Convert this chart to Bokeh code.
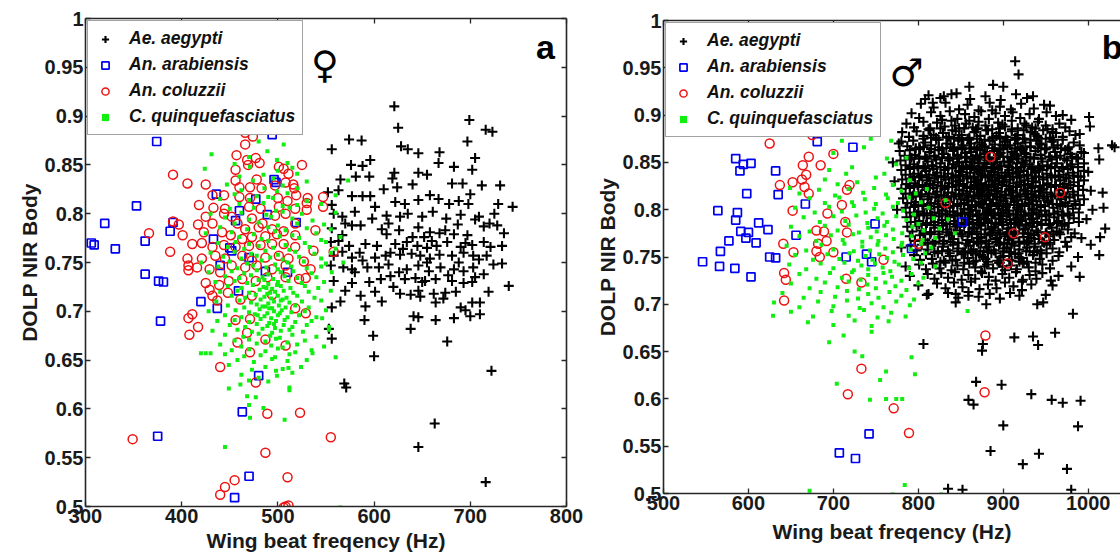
from bokeh.plotting import figure
from bokeh.layouts import row, column
from bokeh.models import LinearAxis, FixedTicker, Range1d
from bokeh.embed import file_html
from bokeh.resources import INLINE
from bokeh.core.properties import value

FONT = "Liberation Sans"

# ---------------- data ----------------
series_names = ["Ae. aegypti", "An. arabiensis", "An. coluzzii", "C. quinquefasciatus"]
x_ticks_a = [300, 400, 500, 600, 700, 800]
x_ticks_b = [500, 600, 700, 800, 900, 1000]
y_ticks = [0.5, 0.55, 0.6, 0.65, 0.7, 0.75, 0.8, 0.85, 0.9, 0.95, 1.0]
y_tick_labels = ["0.5", "0.55", "0.6", "0.65", "0.7", "0.75", "0.8", "0.85", "0.9", "0.95", "1"]
x_label = "Wing beat freqency (Hz)"
y_label = "DOLP NIR Body"

# Panel a (female)
ae_a = [(621,0.910),(625,0.888),(699,0.896),(716,0.886),(723,0.884),(574,0.876),(587,0.875),(697,0.874),(628,0.869),(635,0.866),(646,0.862),(556,0.866),(668,0.863),(705,0.857),(596,0.855),(667,0.852),(683,0.848),(702,0.845),(576,0.850),(588,0.849),(621,0.842),(646,0.842),(565,0.835),(581,0.838),(595,0.838),(619,0.836),(624,0.827),(681,0.831),(692,0.831),(712,0.829),(731,0.829),(552,0.822),(563,0.824),(577,0.818),(588,0.818),(596,0.818),(601,0.807),(658,0.819),(667,0.815),(646,0.814),(632,0.810),(622,0.812),(678,0.810),(688,0.813),(698,0.810),(729,0.810),(744,0.807),(725,0.800),(709,0.797),(556,0.809),(558,0.800),(567,0.797),(577,0.788),(586,0.788),(598,0.795),(613,0.798),(627,0.797),(635,0.800),(650,0.797),(661,0.802),(675,0.795),(690,0.799),(705,0.794),(714,0.787),(728,0.788),(556,0.785),(567,0.778),(608,0.784),(613,0.779),(626,0.783),(646,0.786),(658,0.781),(674,0.783),(683,0.779),(697,0.778),(555,0.771),(563,0.772),(574,0.767),(591,0.769),(603,0.767),(622,0.769),(634,0.771),(645,0.767),(655,0.765),(665,0.767),(676,0.771),(690,0.766),(702,0.768),(714,0.771),(721,0.766),(733,0.767),(558,0.757),(567,0.761),(577,0.755),(588,0.752),(601,0.755),(612,0.757),(627,0.758),(639,0.759),(648,0.757),(658,0.754),(668,0.758),(681,0.757),(693,0.760),(703,0.757),(709,0.753),(717,0.757),(555,0.747),(568,0.745),(577,0.743),(593,0.745),(615,0.748),(626,0.740),(634,0.743),(646,0.747),(657,0.741),(669,0.745),(683,0.743),(693,0.741),(703,0.745),(714,0.738),(733,0.749),(724,0.748),(607,0.733),(617,0.736),(632,0.733),(643,0.734),(653,0.731),(664,0.733),(681,0.731),(693,0.729),(702,0.730),(558,0.731),(570,0.721),(577,0.729),(586,0.716),(601,0.720),(608,0.710),(627,0.718),(638,0.717),(646,0.721),(662,0.718),(674,0.719),(672,0.713),(702,0.709),(710,0.709),(719,0.720),(740,0.726),(556,0.704),(565,0.710),(591,0.705),(648,0.715),(664,0.709),(690,0.704),(695,0.701),(641,0.695),(646,0.694),(664,0.691),(683,0.693),(700,0.695),(710,0.697),(590,0.691),(638,0.682),(553,0.682),(556,0.672),(599,0.675),(676,0.669),(600,0.654),(569,0.626),(571,0.622),(722,0.639),(663,0.585),(646,0.561),(716,0.525),(615,0.790),(652,0.776),(660,0.772),(640,0.776),(630,0.764),(668,0.780),(687,0.789),(695,0.770),(617,0.760),(605,0.745),(585,0.760),(570,0.790),(655,0.750),(677,0.737),(688,0.750),(650,0.730),(620,0.725),(685,0.720),(595,0.730),(705,0.735),(580,0.802),(610,0.825),(640,0.830),(655,0.840),(700,0.820),(720,0.790),(735,0.780),(580,0.740)]

ar_a = [(374,0.874),(494,0.881),(353,0.808),(320,0.790),(306,0.770),(309,0.768),(331,0.764),(362,0.772),(388,0.782),(391,0.791),(436,0.820),(477,0.815),(489,0.799),(519,0.791),(460,0.803),(433,0.774),(450,0.765),(452,0.762),(440,0.747),(487,0.741),(362,0.738),(376,0.731),(381,0.730),(459,0.721),(420,0.710),(437,0.703),(378,0.690),(480,0.634),(463,0.597),(375,0.572),(470,0.531),(455,0.509),(496,0.835),(498,0.832),(470,0.755),(510,0.740),(456,0.793)]

co_a = [(471,0.899),(466,0.883),(474,0.879),(466,0.871),(457,0.860),(468,0.855),(477,0.857),(469,0.850),(481,0.852),(525,0.850),(501,0.848),(506,0.846),(511,0.841),(391,0.840),(406,0.831),(425,0.830),(456,0.845),(456,0.834),(478,0.835),(460,0.827),(471,0.827),(483,0.826),(497,0.829),(508,0.832),(516,0.830),(517,0.826),(444,0.819),(432,0.819),(460,0.817),(471,0.816),(500,0.816),(510,0.813),(519,0.819),(531,0.816),(547,0.817),(547,0.807),(530,0.811),(530,0.804),(518,0.805),(418,0.809),(433,0.806),(445,0.805),(470,0.807),(482,0.805),(501,0.807),(425,0.797),(444,0.800),(452,0.797),(473,0.795),(484,0.790),(497,0.798),(508,0.800),(518,0.790),(391,0.792),(397,0.789),(417,0.789),(432,0.790),(442,0.781),(458,0.790),(466,0.784),(480,0.786),(494,0.784),(506,0.782),(539,0.783),(366,0.780),(401,0.778),(423,0.781),(451,0.778),(463,0.774),(473,0.776),(487,0.777),(499,0.779),(518,0.778),(411,0.769),(421,0.770),(432,0.766),(444,0.768),(456,0.766),(470,0.767),(482,0.768),(494,0.769),(506,0.769),(518,0.766),(388,0.761),(537,0.762),(558,0.761),(406,0.754),(421,0.754),(435,0.757),(445,0.754),(463,0.757),(473,0.752),(487,0.755),(501,0.757),(511,0.754),(527,0.751),(407,0.747),(407,0.742),(416,0.745),(429,0.743),(440,0.740),(452,0.747),(466,0.745),(478,0.747),(494,0.743),(508,0.747),(534,0.743),(425,0.729),(429,0.722),(439,0.727),(449,0.731),(463,0.733),(477,0.731),(489,0.735),(508,0.735),(522,0.733),(529,0.734),(432,0.716),(437,0.711),(448,0.719),(461,0.712),(473,0.716),(494,0.717),(411,0.697),(407,0.693),(417,0.684),(408,0.676),(518,0.703),(529,0.698),(456,0.691),(471,0.692),(487,0.671),(468,0.678),(458,0.668),(508,0.665),(471,0.658),(440,0.643),(477,0.627),(489,0.595),(523,0.596),(349,0.569),(555,0.571),(487,0.555),(510,0.530),(455,0.527),(445,0.520),(440,0.512),(508,0.500),(511,0.501),(506,0.499)]

cq_a = [(487,0.899),(506,0.871),(480,0.874),(431,0.861),(489,0.864),(470,0.858),(499,0.855),(455,0.851),(471,0.848),(510,0.852),(424,0.846),(500,0.844),(515,0.847),(485,0.840),(460,0.838),(520,0.841),(495,0.836),(530,0.833),(474,0.834),(447,0.830),(505,0.829),(486,0.826),(573,0.834),(462,0.824),(499,0.823),(520,0.826),(455,0.820),(478,0.818),(510,0.821),(560,0.819),(490,0.817),(470,0.814),(495,0.816),(530,0.813),(440,0.815),(460,0.810),(485,0.811),(505,0.808),(520,0.809),(545,0.810),(450,0.805),(475,0.806),(498,0.803),(512,0.806),(430,0.800),(462,0.801),(488,0.799),(505,0.802),(525,0.800),(560,0.801),(445,0.796),(470,0.794),(493,0.797),(515,0.795),(536,0.793),(455,0.790),(480,0.791),(500,0.788),(520,0.790),(548,0.789),(440,0.786),(468,0.784),(490,0.786),(508,0.783),(530,0.785),(555,0.784),(425,0.780),(452,0.781),(475,0.779),(497,0.782),(515,0.778),(540,0.780),(460,0.776),(483,0.774),(502,0.777),(522,0.775),(545,0.773),(565,0.776),(438,0.770),(456,0.771),(470,0.769),(490,0.772),(508,0.768),(528,0.770),(550,0.771),(448,0.766),(465,0.764),(480,0.767),(495,0.765),(512,0.763),(533,0.766),(560,0.764),(430,0.760),(455,0.761),(472,0.759),(487,0.762),(500,0.758),(518,0.761),(538,0.759),(555,0.760),(443,0.756),(462,0.754),(478,0.757),(492,0.755),(505,0.753),(522,0.756),(545,0.754),(420,0.750),(450,0.751),(468,0.749),(483,0.752),(497,0.748),(510,0.750),(527,0.751),(550,0.749),(568,0.750),(438,0.746),(458,0.744),(474,0.747),(488,0.745),(500,0.743),(514,0.746),(530,0.744),(545,0.746),(428,0.740),(452,0.741),(465,0.739),(478,0.742),(490,0.738),(503,0.740),(516,0.741),(535,0.739),(556,0.740),(445,0.736),(460,0.734),(472,0.737),(484,0.735),(495,0.733),(507,0.736),(520,0.734),(540,0.735),(435,0.730),(455,0.731),(468,0.729),(480,0.732),(490,0.728),(500,0.730),(511,0.731),(525,0.729),(548,0.730),(448,0.726),(462,0.724),(474,0.727),(485,0.725),(494,0.723),(503,0.726),(513,0.724),(528,0.726),(542,0.724),(440,0.720),(458,0.721),(470,0.719),(481,0.722),(489,0.718),(497,0.720),(506,0.721),(516,0.719),(532,0.720),(555,0.721),(452,0.716),(466,0.714),(477,0.717),(486,0.715),(493,0.713),(500,0.716),(509,0.714),(520,0.716),(538,0.714),(436,0.710),(460,0.711),(472,0.709),(482,0.712),(490,0.708),(496,0.710),(503,0.711),(512,0.709),(525,0.710),(545,0.711),(448,0.706),(465,0.704),(478,0.707),(487,0.705),(494,0.703),(501,0.706),(508,0.704),(518,0.706),(532,0.704),(428,0.700),(456,0.701),(470,0.699),(481,0.702),(489,0.698),(496,0.700),(504,0.701),(514,0.699),(528,0.700),(550,0.701),(445,0.696),(462,0.694),(476,0.697),(486,0.695),(493,0.693),(500,0.696),(510,0.694),(522,0.696),(540,0.694),(437,0.690),(455,0.691),(470,0.689),(482,0.692),(491,0.688),(498,0.690),(507,0.691),(518,0.689),(535,0.690),(450,0.686),(466,0.684),(478,0.687),(489,0.685),(497,0.683),(506,0.686),(515,0.684),(530,0.686),(553,0.684),(432,0.680),(458,0.681),(473,0.679),(484,0.682),(494,0.678),(503,0.680),(512,0.681),(526,0.679),(445,0.676),(464,0.674),(480,0.677),(492,0.675),(502,0.673),(515,0.676),(540,0.674),(455,0.670),(470,0.671),(487,0.669),(498,0.672),(510,0.668),(528,0.670),(440,0.666),(462,0.664),(478,0.667),(493,0.665),(505,0.663),(520,0.666),(548,0.664),(420,0.657),(425,0.657),(430,0.657),(452,0.660),(470,0.661),(487,0.659),(500,0.662),(518,0.658),(535,0.660),(445,0.656),(465,0.654),(482,0.655),(497,0.653),(512,0.656),(560,0.653),(458,0.650),(475,0.648),(494,0.651),(510,0.649),(530,0.650),(449,0.645),(487,0.643),(505,0.641),(524,0.643),(473,0.640),(498,0.639),(515,0.637),(462,0.635),(499,0.634),(480,0.632),(470,0.629),(490,0.628),(461,0.625),(512,0.622),(449,0.621),(512,0.619),(468,0.613),(477,0.612),(485,0.601),(470,0.604),(471,0.591),(507,0.589),(445,0.561),(565,0.499),(546,0.693),(553,0.681),(536,0.657),(511,0.642),(484,0.705),(492,0.719),(499,0.727),(486,0.732),(505,0.712),(479,0.696),(496,0.687),(488,0.724),(502,0.698),(491,0.703)]

# Panel b (male)
ae_b = [(914,0.957),(918,0.943),(888,0.932),(839,0.922),(808,0.917),(817,0.913),(1002,0.888),(1013,0.853),(1018,0.802),(1013,0.752),(1001,0.898),(1012,0.865),(1028,0.868),(1031,0.866),(1017,0.818),(1014,0.771),(1003,0.763),(990,0.729),(982,0.690),(961,0.670),(935,0.666),(941,0.657),(913,0.665),(876,0.658),(875,0.651),(806,0.658),(868,0.618),(859,0.599),(865,0.594),(898,0.615),(933,0.605),(957,0.599),(970,0.596),(991,0.598),(900,0.572),(988,0.571),(885,0.545),(942,0.542),(923,0.531),(975,0.526),(835,0.505),(852,0.504),(980,0.504),(880,0.700),(844,0.702),(844,0.711),(859,0.709),(947,0.702),(956,0.725),(922,0.724),(812,0.711),
(770,0.850),(772,0.830),(775,0.800),(777,0.870),(1000,0.840),(1003,0.820),(998,0.790),(995,0.860),(992,0.770),(988,0.750),(980,0.740),(965,0.730),(958,0.720),(1005,0.800),(1020,0.780),(780,0.760),(785,0.740),(790,0.730),(800,0.720),(810,0.710),(950,0.710),(940,0.700),(830,0.920),(860,0.930),(900,0.930),(935,0.920),(955,0.910),(970,0.900),(980,0.895),(990,0.880),
(812,0.921),(826,0.918),(845,0.923),(861,0.917),(879,0.920),(897,0.916),(915,0.922),(928,0.918),
(803,0.912),(818,0.908),(832,0.913),(848,0.906),(858,0.911),(871,0.905),(884,0.913),(896,0.909),(909,0.906),(921,0.912),(936,0.907),(948,0.911),
(792,0.902),(801,0.897),(815,0.903),(826,0.899),(837,0.904),(846,0.896),(855,0.901),(866,0.898),(874,0.904),(883,0.896),(891,0.902),(902,0.899),(911,0.903),(920,0.897),(931,0.901),(942,0.896),(951,0.903),(962,0.899),(828,0.895),(887,0.905),
(786,0.891),(795,0.887),(806,0.893),(814,0.886),(822,0.892),(831,0.888),(839,0.894),(848,0.886),(856,0.891),(864,0.887),(871,0.893),(879,0.889),(887,0.885),(894,0.892),(902,0.888),(910,0.894),(917,0.886),(925,0.891),(934,0.887),(941,0.893),(950,0.889),(958,0.885),(966,0.891),(973,0.887),(843,0.889),(899,0.890),(927,0.889),(860,0.894),
(812,0.885),(826,0.886),(840,0.884),(854,0.886),(868,0.885),(882,0.884),(896,0.886),(910,0.885),(924,0.884),(938,0.886),(952,0.885),
(781,0.882),(789,0.877),(798,0.883),(806,0.878),(813,0.884),(821,0.876),(829,0.881),(836,0.877),(844,0.883),(851,0.879),(858,0.875),(866,0.882),(873,0.878),(880,0.884),(888,0.876),(895,0.881),(903,0.877),(910,0.883),(917,0.879),(925,0.875),(932,0.882),(940,0.878),(947,0.884),(955,0.876),(962,0.881),(970,0.877),(978,0.883),(985,0.879),(818,0.879),(848,0.876),(870,0.886),(892,0.878),(915,0.876),(937,0.880),(958,0.882),
(806,0.875),(815,0.876),(824,0.874),(833,0.876),(842,0.875),(851,0.874),(860,0.876),(869,0.875),(878,0.874),(887,0.876),(896,0.875),(905,0.874),(914,0.876),(923,0.875),(932,0.874),(941,0.876),(950,0.875),(959,0.874),
(780,0.872),(787,0.867),(794,0.873),(801,0.866),(808,0.871),(815,0.868),(821,0.874),(828,0.865),(834,0.870),(841,0.866),(847,0.873),(853,0.868),(860,0.874),(866,0.866),(872,0.871),(878,0.867),(884,0.873),(890,0.869),(896,0.865),(902,0.872),(908,0.868),(914,0.874),(920,0.866),(926,0.871),(932,0.867),(939,0.873),(945,0.869),(951,0.865),(957,0.872),(964,0.868),(970,0.874),(977,0.866),(983,0.871),(990,0.868),(838,0.869),(875,0.869),(899,0.868),(917,0.870),(943,0.870),(862,0.870),
(797,0.865),(806,0.866),(815,0.864),(824,0.866),(833,0.865),(842,0.864),(851,0.866),(860,0.865),(869,0.864),(878,0.866),(887,0.865),(896,0.864),(905,0.866),(914,0.865),(923,0.864),(932,0.866),(941,0.865),(950,0.864),(959,0.866),(968,0.865),(976,0.864),
(778,0.862),(784,0.857),(790,0.863),(796,0.858),(802,0.864),(808,0.856),(813,0.861),(819,0.857),(824,0.863),(830,0.859),(835,0.855),(841,0.862),(846,0.858),(852,0.864),(857,0.856),(862,0.861),(868,0.857),(873,0.863),(878,0.859),(884,0.855),(889,0.862),(894,0.858),(900,0.864),(905,0.856),(910,0.861),(916,0.857),(921,0.863),(927,0.859),(932,0.855),(938,0.862),(944,0.858),(949,0.864),(955,0.856),(961,0.861),(967,0.857),(973,0.863),(979,0.859),(986,0.855),(992,0.861),(855,0.860),(881,0.861),(897,0.860),(913,0.859),(870,0.854),(925,0.860),
(792,0.855),(801,0.856),(810,0.854),(819,0.856),(828,0.855),(837,0.854),(846,0.856),(855,0.855),(864,0.854),(873,0.856),(882,0.855),(891,0.854),(900,0.856),(909,0.855),(918,0.854),(927,0.856),(936,0.855),(945,0.854),(954,0.856),(963,0.855),(972,0.854),(981,0.856),
(779,0.852),(785,0.847),(790,0.853),(795,0.848),(801,0.854),(806,0.846),(811,0.851),(816,0.847),(821,0.853),(826,0.849),(831,0.845),(836,0.852),(841,0.848),(846,0.854),(851,0.846),(856,0.851),(861,0.847),(866,0.853),(871,0.849),(876,0.845),(881,0.852),(886,0.848),(891,0.854),(896,0.846),(901,0.851),(906,0.847),(911,0.853),(916,0.849),(921,0.845),(926,0.852),(931,0.848),(936,0.854),(941,0.846),(946,0.851),(952,0.847),(957,0.853),(963,0.849),(969,0.845),(975,0.852),(981,0.848),(988,0.854),(995,0.849),(848,0.850),(863,0.850),(878,0.849),(893,0.850),(908,0.850),(923,0.850),(873,0.856),(888,0.844),
(790,0.845),(799,0.846),(808,0.844),(817,0.846),(826,0.845),(835,0.844),(844,0.846),(853,0.845),(862,0.844),(871,0.846),(880,0.845),(889,0.844),(898,0.846),(907,0.845),(916,0.844),(925,0.846),(934,0.845),(943,0.844),(952,0.846),(961,0.845),(970,0.844),(979,0.846),(988,0.845),
(780,0.842),(785,0.837),(790,0.843),(795,0.838),(800,0.844),(804,0.836),(809,0.841),(813,0.837),(818,0.843),(822,0.839),(827,0.835),(831,0.842),(835,0.838),(840,0.844),(844,0.836),(848,0.841),(852,0.837),(857,0.843),(861,0.839),(865,0.835),(869,0.842),(873,0.838),(878,0.844),(882,0.836),(886,0.841),(890,0.837),(894,0.843),(898,0.839),(903,0.835),(907,0.842),(911,0.838),(915,0.844),(920,0.836),(924,0.841),(928,0.837),(933,0.843),(937,0.839),(942,0.835),(946,0.842),(951,0.838),(956,0.844),(961,0.836),(966,0.841),(971,0.837),(976,0.843),(982,0.839),(988,0.835),(995,0.841),(850,0.840),(871,0.840),(889,0.840),(905,0.839),(918,0.840),(938,0.841),(862,0.845),
(794,0.835),(803,0.836),(812,0.834),(821,0.836),(830,0.835),(839,0.834),(848,0.836),(857,0.835),(866,0.834),(875,0.836),(884,0.835),(893,0.834),(902,0.836),(911,0.835),(920,0.834),(929,0.836),(938,0.835),(947,0.834),(956,0.836),(965,0.835),(974,0.834),(983,0.836),(991,0.835),
(781,0.832),(786,0.827),(791,0.833),(796,0.828),(801,0.834),(805,0.826),(810,0.831),(814,0.827),(819,0.833),(823,0.829),(828,0.825),(832,0.832),(836,0.828),(841,0.834),(845,0.826),(849,0.831),(853,0.827),(858,0.833),(862,0.829),(866,0.825),(870,0.832),(874,0.828),(879,0.834),(883,0.826),(887,0.831),(891,0.827),(895,0.833),(899,0.829),(904,0.825),(908,0.832),(912,0.828),(916,0.834),(921,0.826),(925,0.831),(929,0.827),(934,0.833),(938,0.829),(943,0.825),(947,0.832),(952,0.828),(957,0.834),(962,0.826),(967,0.831),(972,0.827),(977,0.833),(983,0.829),(989,0.825),(995,0.831),(847,0.830),(868,0.830),(886,0.830),(901,0.830),(919,0.829),(935,0.830),(877,0.823),
(790,0.825),(799,0.826),(808,0.824),(817,0.826),(826,0.825),(835,0.824),(844,0.826),(853,0.825),(862,0.824),(871,0.826),(880,0.825),(889,0.824),(898,0.826),(907,0.825),(916,0.824),(925,0.826),(934,0.825),(943,0.824),(952,0.826),(961,0.825),(970,0.824),(979,0.826),(988,0.825),
(780,0.822),(785,0.817),(790,0.823),(795,0.818),(800,0.824),(804,0.816),(809,0.821),(813,0.817),(818,0.823),(822,0.819),(827,0.815),(831,0.822),(835,0.818),(840,0.824),(844,0.816),(848,0.821),(852,0.817),(857,0.823),(861,0.819),(865,0.815),(869,0.822),(873,0.818),(878,0.824),(882,0.816),(886,0.821),(890,0.817),(894,0.823),(898,0.819),(903,0.815),(907,0.822),(911,0.818),(915,0.824),(920,0.816),(924,0.821),(928,0.817),(933,0.823),(937,0.819),(942,0.815),(946,0.822),(951,0.818),(956,0.824),(961,0.816),(966,0.821),(971,0.817),(976,0.823),(982,0.819),(988,0.815),(994,0.821),(853,0.820),(875,0.820),(892,0.820),(909,0.820),(926,0.820),(944,0.820),(866,0.826),
(794,0.815),(803,0.816),(812,0.814),(821,0.816),(830,0.815),(839,0.814),(848,0.816),(857,0.815),(866,0.814),(875,0.816),(884,0.815),(893,0.814),(902,0.816),(911,0.815),(920,0.814),(929,0.816),(938,0.815),(947,0.814),(956,0.816),(965,0.815),(974,0.814),(983,0.816),
(782,0.812),(787,0.807),(792,0.813),(797,0.808),(802,0.814),(806,0.806),(811,0.811),(815,0.807),(820,0.813),(824,0.809),(829,0.805),(833,0.812),(837,0.808),(842,0.814),(846,0.806),(850,0.811),(854,0.807),(859,0.813),(863,0.809),(867,0.805),(871,0.812),(875,0.808),(880,0.814),(884,0.806),(888,0.811),(892,0.807),(896,0.813),(900,0.809),(905,0.805),(909,0.812),(913,0.808),(917,0.814),(922,0.806),(926,0.811),(930,0.807),(935,0.813),(939,0.809),(944,0.805),(948,0.812),(953,0.808),(958,0.814),(963,0.806),(968,0.811),(973,0.807),(978,0.813),(984,0.809),(990,0.805),(995,0.811),(857,0.810),(878,0.810),(897,0.810),(916,0.810),(933,0.810),(952,0.810),(871,0.816),
(796,0.805),(805,0.806),(814,0.804),(823,0.806),(832,0.805),(841,0.804),(850,0.806),(859,0.805),(868,0.804),(877,0.806),(886,0.805),(895,0.804),(904,0.806),(913,0.805),(922,0.804),(931,0.806),(940,0.805),(949,0.804),(958,0.806),(967,0.805),(976,0.804),(985,0.806),
(785,0.802),(790,0.797),(795,0.803),(800,0.798),(805,0.804),(810,0.796),(814,0.801),(819,0.797),(823,0.803),(828,0.799),(832,0.795),(837,0.802),(841,0.798),(846,0.804),(850,0.796),(854,0.801),(859,0.797),(863,0.803),(868,0.799),(872,0.795),(876,0.802),(881,0.798),(885,0.804),(890,0.796),(894,0.801),(898,0.797),(903,0.803),(907,0.799),(912,0.795),(916,0.802),(921,0.798),(925,0.804),(930,0.796),(934,0.801),(939,0.797),(944,0.803),(949,0.799),(954,0.795),(959,0.802),(964,0.798),(970,0.804),(976,0.796),(982,0.801),(989,0.797),(861,0.800),(883,0.800),(900,0.800),(918,0.800),(936,0.800),(875,0.806),
(798,0.795),(807,0.796),(816,0.794),(825,0.796),(834,0.795),(843,0.794),(852,0.796),(861,0.795),(870,0.794),(879,0.796),(888,0.795),(897,0.794),(906,0.796),(915,0.795),(924,0.794),(933,0.796),(942,0.795),(951,0.794),(960,0.796),(969,0.795),(978,0.794),
(786,0.792),(791,0.787),(796,0.793),(801,0.788),(806,0.794),(810,0.786),(815,0.791),(819,0.787),(824,0.793),(828,0.789),(833,0.785),(837,0.792),(842,0.788),(846,0.794),(851,0.786),(855,0.791),(860,0.787),(864,0.793),(869,0.789),(873,0.785),(877,0.792),(882,0.788),(886,0.794),(891,0.786),(895,0.791),(899,0.787),(904,0.793),(908,0.789),(913,0.785),(917,0.792),(922,0.788),(926,0.794),(931,0.786),(935,0.791),(940,0.787),(945,0.793),(950,0.789),(955,0.785),(960,0.792),(965,0.788),(971,0.794),(977,0.786),(983,0.791),(989,0.787),(858,0.790),(879,0.790),(897,0.790),(915,0.790),(933,0.790),(889,0.796),
(801,0.785),(810,0.786),(819,0.784),(828,0.786),(837,0.785),(846,0.784),(855,0.786),(864,0.785),(873,0.784),(882,0.786),(891,0.785),(900,0.784),(909,0.786),(918,0.785),(927,0.784),(936,0.786),(945,0.785),(954,0.784),(963,0.786),(972,0.785),
(787,0.782),(793,0.777),(798,0.783),(804,0.778),(809,0.784),(814,0.776),(819,0.781),(824,0.777),(829,0.783),(834,0.779),(839,0.775),(844,0.782),(849,0.778),(854,0.784),(859,0.776),(864,0.781),(869,0.777),(874,0.783),(879,0.779),(884,0.775),(889,0.782),(894,0.778),(899,0.784),(904,0.776),(909,0.781),(914,0.777),(919,0.783),(924,0.779),(929,0.775),(934,0.782),(939,0.778),(945,0.784),(951,0.776),(957,0.781),(963,0.777),(969,0.783),(976,0.779),(984,0.775),(866,0.780),(886,0.780),(906,0.780),(926,0.780),(871,0.786),(896,0.774),(917,0.786),
(806,0.775),(815,0.776),(824,0.774),(833,0.776),(842,0.775),(851,0.774),(860,0.776),(869,0.775),(878,0.774),(887,0.776),(896,0.775),(905,0.774),(914,0.776),(923,0.775),(932,0.774),(941,0.776),(950,0.775),(959,0.774),(966,0.776),
(790,0.772),(796,0.767),(802,0.773),(808,0.768),(814,0.774),(819,0.766),(825,0.771),(830,0.767),(836,0.773),(841,0.769),(847,0.765),(852,0.772),(858,0.768),(863,0.774),(869,0.766),(874,0.771),(880,0.767),(885,0.773),(891,0.769),(896,0.765),(902,0.772),(907,0.768),(913,0.774),(918,0.766),(924,0.771),(930,0.767),(936,0.773),(942,0.769),(948,0.765),(954,0.772),(960,0.768),(967,0.774),(973,0.766),(980,0.771),(871,0.770),(893,0.770),(911,0.770),(933,0.770),(860,0.776),(905,0.764),
(811,0.765),(820,0.766),(829,0.764),(838,0.766),(847,0.765),(856,0.764),(865,0.766),(874,0.765),(883,0.764),(892,0.766),(901,0.765),(910,0.764),(919,0.766),(928,0.765),(937,0.764),(946,0.766),(955,0.765),
(791,0.762),(798,0.757),(804,0.763),(811,0.758),(817,0.764),(823,0.756),(829,0.761),(835,0.757),(841,0.763),(847,0.759),(853,0.755),(859,0.762),(865,0.758),(871,0.764),(877,0.756),(883,0.761),(889,0.757),(895,0.763),(901,0.759),(907,0.755),(913,0.762),(919,0.758),(925,0.764),(931,0.756),(937,0.761),(944,0.757),(951,0.763),(958,0.759),(966,0.755),(975,0.761),(880,0.760),(904,0.760),(928,0.760),(868,0.754),(892,0.766),
(819,0.755),(828,0.756),(837,0.754),(846,0.756),(855,0.755),(864,0.754),(873,0.756),(882,0.755),(891,0.754),(900,0.756),(909,0.755),(918,0.754),(927,0.756),(936,0.755),(945,0.754),
(795,0.752),(802,0.747),(809,0.753),(816,0.748),(823,0.754),(830,0.746),(837,0.751),(844,0.747),(851,0.753),(858,0.749),(865,0.745),(872,0.752),(879,0.748),(886,0.754),(893,0.746),(900,0.751),(907,0.747),(914,0.753),(921,0.749),(928,0.745),(935,0.752),(943,0.748),(951,0.754),(958,0.746),(965,0.751),(876,0.750),(897,0.750),(918,0.750),(862,0.756),(940,0.756),
(826,0.745),(840,0.746),(854,0.744),(868,0.746),(882,0.745),(896,0.744),(910,0.746),(924,0.745),(938,0.744),
(801,0.742),(809,0.737),(817,0.743),(825,0.738),(832,0.744),(839,0.736),(846,0.741),(853,0.737),(860,0.743),(867,0.739),(874,0.735),(881,0.742),(888,0.738),(895,0.744),(902,0.736),(909,0.741),(916,0.737),(923,0.743),(930,0.739),(938,0.735),(946,0.742),(955,0.738),(878,0.740),(899,0.740),(919,0.745),
(811,0.732),(819,0.727),(827,0.733),(835,0.728),(843,0.734),(851,0.726),(859,0.731),(867,0.727),(875,0.733),(883,0.729),(891,0.725),(899,0.732),(907,0.728),(915,0.734),(923,0.726),(931,0.731),(939,0.727),(946,0.733),
(822,0.722),(832,0.717),(842,0.723),(852,0.718),(862,0.724),(872,0.716),(882,0.721),(892,0.717),(902,0.723),(912,0.719),(922,0.715),(933,0.721),
(835,0.712),(847,0.707),(859,0.713),(871,0.708),(884,0.711),(896,0.706),(908,0.712),(919,0.709)]

ar_b = [(585,0.854),(594,0.848),(590,0.841),(603,0.849),(632,0.841),(598,0.817),(635,0.816),(681,0.872),(723,0.866),(667,0.806),(564,0.799),(587,0.797),(585,0.789),(612,0.786),(591,0.777),(600,0.776),(597,0.770),(623,0.779),(609,0.765),(577,0.767),(567,0.756),(656,0.773),(546,0.745),(566,0.740),(584,0.738),(603,0.729),(625,0.750),(632,0.749),(715,0.750),(745,0.745),(739,0.753),(749,0.785),(792,0.759),(852,0.787),(742,0.563),(707,0.543),(726,0.537)]

co_b = [(697,0.901),(660,0.887),(675,0.879),(625,0.870),(700,0.859),(671,0.856),(685,0.847),(664,0.847),(668,0.837),(663,0.832),(637,0.826),(652,0.829),(666,0.824),(671,0.817),(719,0.826),(716,0.821),(652,0.799),(710,0.805),(693,0.796),(714,0.787),(716,0.776),(680,0.778),(689,0.777),(692,0.767),(682,0.764),(641,0.764),(653,0.755),(680,0.756),(684,0.750),(700,0.755),(759,0.747),(642,0.733),(644,0.726),(715,0.727),(733,0.723),(642,0.704),(800,0.764),(832,0.807),(885,0.856),(967,0.818),(912,0.775),(949,0.771),(905,0.743),(879,0.667),(878,0.607),(733,0.632),(717,0.605),(771,0.590),(789,0.564)]

cq_b = [(708,0.895),(731,0.888),(744,0.875),(768,0.873),(736,0.866),(710,0.873),(722,0.845),(763,0.854),(774,0.848),(786,0.855),(700,0.860),(715,0.838),(695,0.842),(649,0.823),(690,0.832),(705,0.827),(728,0.829),(750,0.834),(770,0.826),(790,0.831),(760,0.838),(660,0.817),(683,0.821),(702,0.815),(718,0.822),(735,0.818),(748,0.823),(762,0.816),(780,0.820),(797,0.817),(810,0.822),(672,0.812),(690,0.807),(707,0.813),(722,0.808),(737,0.811),(750,0.806),(764,0.812),(776,0.807),(789,0.813),(803,0.808),(655,0.802),(678,0.797),(695,0.803),(710,0.798),(724,0.804),(738,0.797),(748,0.801),(758,0.796),(770,0.803),(782,0.799),(795,0.795),(812,0.802),(665,0.792),(684,0.787),(700,0.793),(714,0.788),(727,0.794),(740,0.786),(752,0.791),(763,0.787),(774,0.793),(786,0.789),(800,0.785),(818,0.791),(650,0.782),(672,0.777),(690,0.783),(705,0.778),(718,0.784),(730,0.776),(741,0.781),(751,0.777),(760,0.783),(770,0.779),(781,0.775),(793,0.782),(806,0.778),(825,0.780),(660,0.772),(680,0.767),(697,0.773),(711,0.768),(723,0.774),(734,0.766),(744,0.771),(753,0.767),(762,0.773),(771,0.769),(781,0.765),(792,0.772),(805,0.768),(820,0.770),(645,0.762),(668,0.757),(686,0.763),(700,0.758),(713,0.764),(724,0.756),(734,0.761),(743,0.757),(752,0.763),(761,0.759),(770,0.755),(780,0.762),(791,0.758),(803,0.764),(815,0.760),(655,0.752),(676,0.747),(693,0.753),(707,0.748),(719,0.754),(729,0.746),(738,0.751),(746,0.747),(754,0.753),(763,0.749),(772,0.745),(782,0.752),(794,0.748),(808,0.754),(648,0.742),(668,0.737),(685,0.743),(700,0.738),(713,0.744),(724,0.736),(733,0.741),(741,0.737),(749,0.743),(758,0.739),(767,0.735),(777,0.742),(789,0.738),(803,0.744),(820,0.740),(660,0.732),(680,0.727),(696,0.733),(710,0.728),(722,0.734),(732,0.726),(741,0.731),(750,0.727),(759,0.733),(769,0.729),(780,0.725),(792,0.732),(806,0.728),(650,0.722),(672,0.717),(690,0.723),(705,0.718),(718,0.724),(730,0.716),(740,0.721),(750,0.717),(761,0.723),(773,0.719),(786,0.715),(800,0.722),(640,0.712),(665,0.707),(685,0.713),(702,0.708),(716,0.714),(729,0.706),(741,0.711),(753,0.707),(766,0.713),(780,0.709),(795,0.705),(630,0.702),(660,0.697),(682,0.703),(700,0.698),(716,0.704),(731,0.696),(745,0.701),(759,0.697),(774,0.703),(790,0.699),(629,0.688),(650,0.692),(676,0.687),(698,0.693),(718,0.688),(736,0.694),(752,0.686),(768,0.691),(785,0.687),(670,0.681),(700,0.678),(725,0.683),(745,0.677),(765,0.682),(712,0.667),(745,0.671),(695,0.660),(725,0.650),(734,0.645),(792,0.644),(762,0.629),(796,0.626),(704,0.616),(743,0.599),(762,0.600),(774,0.600),(781,0.600),(784,0.509),(672,0.503),(770,0.499),(827,0.499),(858,0.693),(755,0.620),(835,0.790),(843,0.775),(832,0.810)]

# ---------------- styling helpers ----------------
AX = "#262626"


def style_axis(ax, show_labels=True, label_standoff=1):
    ax.major_tick_in = 5
    ax.major_tick_out = 0
    ax.minor_tick_line_color = None
    ax.axis_line_color = AX
    ax.axis_line_width = 1.6
    ax.major_tick_line_color = AX
    ax.major_tick_line_width = 1.3
    if show_labels:
        ax.major_label_text_font = FONT
        ax.major_label_text_font_style = "bold"
        ax.major_label_text_font_size = "20px"
        ax.major_label_text_color = "#1a1a1a"
        ax.major_label_standoff = 2
        ax.axis_label_text_font = FONT
        ax.axis_label_text_font_style = "bold"
        ax.axis_label_text_font_size = "21px"
        ax.axis_label_text_color = "#1a1a1a"
        ax.axis_label_standoff = label_standoff
    else:
        ax.major_label_text_font_size = "1px"
        ax.major_label_standoff = 0


def xs(pts):
    return [p[0] for p in pts]


def ys(pts):
    return [p[1] for p in pts]


def make_panel(x_start, x_end, x_ticks, ae, ar, co, cq, width, left, right, top, bottom,
               sym, sym_pos, letter, letter_pos, letter_align, right_axis, xlab_standoff):
    p = figure(width=width, height=556,
               x_range=Range1d(x_start, x_end), y_range=Range1d(0.5, 1.0),
               output_backend="svg", toolbar_location=None,
               min_border_left=left, min_border_right=right,
               min_border_top=top, min_border_bottom=bottom)
    p.outline_line_color = None
    p.grid.visible = False
    p.background_fill_color = "white"
    p.border_fill_color = "white"

    p.xaxis.ticker = FixedTicker(ticks=x_ticks)
    p.yaxis.ticker = FixedTicker(ticks=y_ticks)
    p.yaxis.major_label_overrides = {t: l for t, l in zip(y_ticks, y_tick_labels)}
    p.xaxis.axis_label = x_label
    p.yaxis.axis_label = y_label
    style_axis(p.xaxis[0], label_standoff=xlab_standoff)
    style_axis(p.yaxis[0])

    top_ax = LinearAxis(ticker=FixedTicker(ticks=x_ticks),
                        major_label_overrides={t: "" for t in x_ticks})
    style_axis(top_ax, show_labels=False)
    p.add_layout(top_ax, "above")
    if right_axis:
        r_ax = LinearAxis(ticker=FixedTicker(ticks=y_ticks),
                          major_label_overrides={t: "" for t in y_ticks})
        style_axis(r_ax, show_labels=False)
        p.add_layout(r_ax, "right")

    p.scatter(xs(ae), ys(ae), marker="cross", size=10, line_color="black",
              line_width=2.1, legend_label=series_names[0])
    p.scatter(xs(ar), ys(ar), marker="square", size=8, fill_color=None,
              line_color="#0000ee", line_width=1.7, legend_label=series_names[1])
    p.scatter(xs(co), ys(co), marker="circle", size=9, fill_color=None,
              line_color="#ee1111", line_width=1.5, legend_label=series_names[2])
    p.scatter(xs(cq), ys(cq), marker="square", size=4, fill_color="#11ee11",
              line_color=None, legend_label=series_names[3])

    p.text(x=[sym_pos[0]], y=[sym_pos[1]], text=[sym], text_font=value("DejaVu Sans"),
           text_font_size="38px", text_font_style="bold", text_align="center",
           text_baseline="middle", text_color="black")
    p.text(x=[letter_pos[0]], y=[letter_pos[1]], text=[letter], text_font=value(FONT),
           text_font_size="34px", text_font_style="bold", text_align=letter_align,
           text_baseline="middle", text_color="black")

    lg = p.legend[0]
    lg.location = "top_left"
    lg.margin = 2
    lg.padding = 7
    lg.spacing = 5
    lg.glyph_width = 20
    lg.glyph_height = 18
    lg.label_height = 18
    lg.label_standoff = 14
    lg.label_text_font = FONT
    lg.label_text_font_style = "bold italic"
    lg.label_text_font_size = "17.5px"
    lg.label_text_color = "#111111"
    lg.border_line_color = "#444444"
    lg.border_line_width = 1.2
    lg.background_fill_alpha = 1.0
    return p


pa = make_panel(300, 800, x_ticks_a, ae_a, ar_a, co_a, cq_a, 588, 85, 22, 18, 50,
                "\u2640", (549, 0.952), "a", (778, 0.971), "center", True, 3)
pb = make_panel(500, 1038, x_ticks_b, ae_b, ar_b, co_b, cq_b, 532, 75, 0, 20, 63,
                "\u2642", (786, 0.944), "b", (1016, 0.972), "left", False, 7)

layout = row(column(pa), column(pb))
open("out.html", "w").write(file_html(layout, INLINE))
